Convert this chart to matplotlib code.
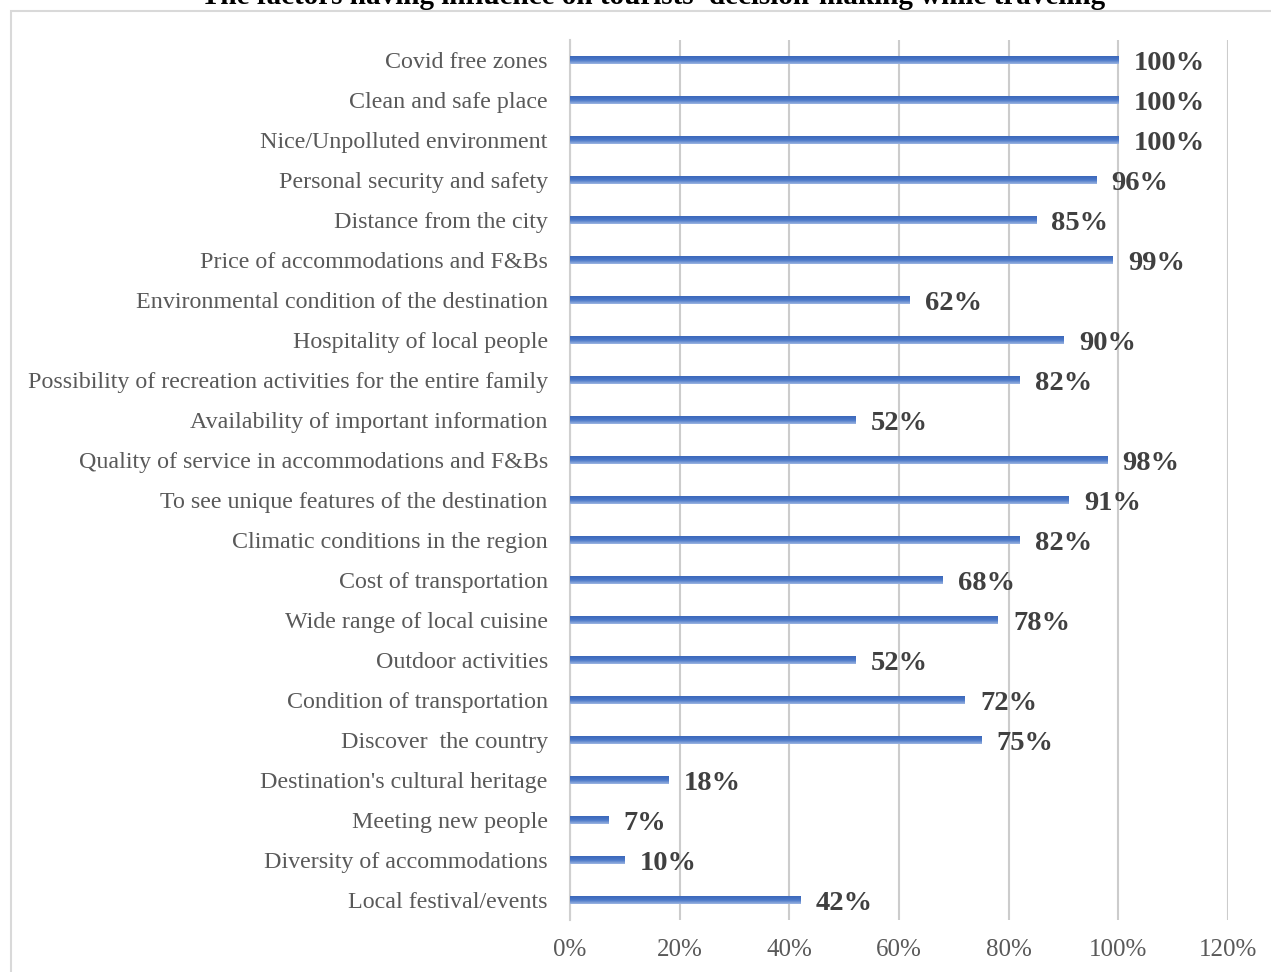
import numpy as np
import matplotlib.pyplot as plt
from matplotlib.patches import Rectangle

# donnees (du haut vers le bas)
factors = [
    "Covid free zones",
    "Clean and safe place",
    "Nice/Unpolluted environment",
    "Personal security and safety",
    "Distance from the city",
    "Price of accommodations and F&Bs",
    "Environmental condition of the destination",
    "Hospitality of local people",
    "Possibility of recreation activities for the entire family",
    "Availability of important information",
    "Quality of service in accommodations and F&Bs",
    "To see unique features of the destination",
    "Climatic conditions in the region",
    "Cost of transportation",
    "Wide range of local cuisine",
    "Outdoor activities",
    "Condition of transportation",
    "Discover  the country",
    "Destination's cultural heritage",
    "Meeting new people",
    "Diversity of accommodations",
    "Local festival/events",
]
percent = [100, 100, 100, 96, 85, 99, 62, 90, 82, 52, 98, 91, 82, 68, 78, 52, 72, 75, 18, 7, 10, 42]
xticks = [0, 20, 40, 60, 80, 100, 120]
title = "The factors having influence on tourists' decision-making while traveling"

plt.rcParams['font.family'] = ['Liberation Serif', 'DejaVu Serif']

W, H = 1271, 972
fig = plt.figure(figsize=(W / 100, H / 100), dpi=100)
ax = fig.add_axes([570 / W, (H - 920) / H, (1228 - 570) / W, 880 / H])

# cadre du graphique (coupe a droite et en bas)
fig.patches.append(Rectangle((11 / W, -0.1), 1.2, (H - 11) / H + 0.1,
                             transform=fig.transFigure, fill=False,
                             edgecolor='#d9d9d9', linewidth=1.5, zorder=0))

y = np.arange(len(factors))[::-1]
h = 0.2
bars = ax.barh(y, percent, height=h, color='#4472C4', zorder=2)

# degrade dans chaque barre
grad = np.linspace(0, 1, 50).reshape(-1, 1)
cmap = plt.matplotlib.colors.LinearSegmentedColormap.from_list(
    'g', ['#3C68BA', '#4A78C8', '#9DB5E2'])
for b, v, yy in zip(bars, percent, y):
    im = ax.imshow(grad, extent=[0, v, yy - h / 2, yy + h / 2], aspect='auto',
                   cmap=cmap, origin='upper', zorder=3)
    im.set_clip_path(b)

for v, yy in zip(percent, y):
    ax.annotate(f"{v}%", (v, yy), xytext=(11, 0), textcoords='offset points',
                va='center_baseline', ha='left', fontsize=20.5, fontweight='bold',
                color='#404040')

ax.set_xlim(0, 120)
ax.set_ylim(-0.5, len(factors) - 0.5)
ax.set_xticks(xticks)
ax.set_xticklabels([f"{t}%" for t in xticks], fontsize=18, color='#595959')
ax.set_yticks(y)
ax.set_yticklabels(factors, fontsize=17.3, color='#595959')
ax.tick_params(axis='both', length=0)
ax.tick_params(axis='y', pad=16)
ax.tick_params(axis='x', pad=13.5)
ax.grid(axis='x', color='#cccccc', linewidth=1.5, zorder=0)
ax.set_axisbelow(True)
for s in ['top', 'right', 'bottom']:
    ax.spines[s].set_visible(False)
ax.spines['left'].set_color('#d0d0d0')
ax.spines['left'].set_linewidth(1.5)

fig.text(653 / W, (H - 4) / H, title, ha='center', va='baseline',
         fontsize=21, fontweight='bold', color='black')

fig.savefig('out.png', dpi=100)
